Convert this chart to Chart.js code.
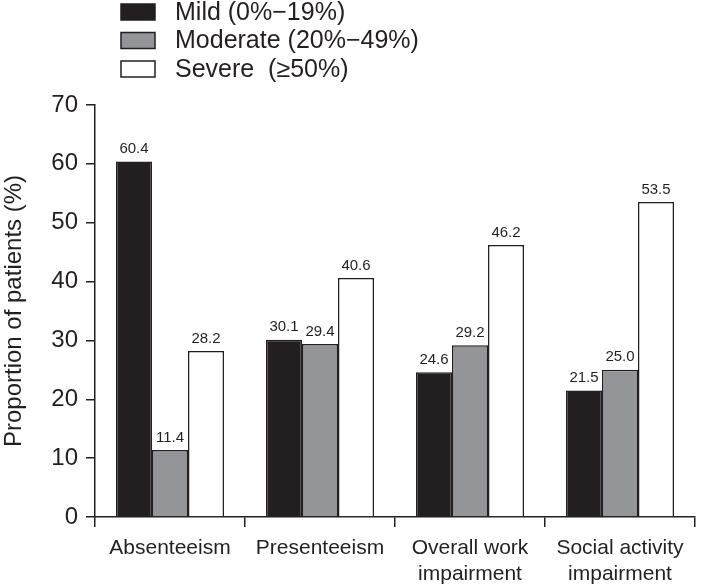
<!DOCTYPE html>
<html>
<head>
<meta charset="utf-8">
<script src="https://cdn.jsdelivr.net/npm/chart.js@4.4.0/dist/chart.umd.min.js"></script>
<style>
  html, body { margin: 0; padding: 0; background: #fff; }
  #wrap { width: 701px; height: 586px; }
</style>
</head>
<body>
<div id="wrap"><canvas id="chart"></canvas></div>
<script>
const categories = [['Absenteeism'], ['Presenteeism'], ['Overall work', 'impairment'], ['Social activity', 'impairment']];
const mild = [60.4, 30.1, 24.6, 21.5];
const moderate = [11.4, 29.4, 29.2, 25.0];
const severe = [28.2, 40.6, 46.2, 53.5];
const seriesNames = ['Mild (0%\u221219%)', 'Moderate (20%\u221249%)', 'Severe  (\u226550%)'];
const yTicks = [0, 10, 20, 30, 40, 50, 60, 70];

const ink = '#231f20';
const font = 'Arial, "Liberation Sans", sans-serif';

// value labels above each bar
const valueLabels = {
  id: 'valueLabels',
  afterDatasetsDraw(chart) {
    const ctx = chart.ctx;
    ctx.save();
    ctx.fillStyle = ink;
    ctx.font = '15px ' + font;
    ctx.textAlign = 'center';
    ctx.textBaseline = 'bottom';
    chart.data.datasets.forEach((ds, i) => {
      chart.getDatasetMeta(i).data.forEach((bar, j) => {
        ctx.fillText(ds.data[j].toFixed(1), bar.x, bar.y - 5);
      });
    });
    ctx.restore();
  }
};

// stacked legend at top left
const stackedLegend = {
  id: 'stackedLegend',
  afterDraw(chart) {
    const ctx = chart.ctx;
    ctx.save();
    ctx.font = '25px ' + font;
    ctx.textBaseline = 'middle';
    chart.data.datasets.forEach((ds, i) => {
      const cy = 12 + i * 28.5;
      ctx.fillStyle = ds.backgroundColor;
      ctx.fillRect(121, cy - 8, 34, 16);
      ctx.strokeStyle = ink;
      ctx.lineWidth = 1.5;
      ctx.strokeRect(121, cy - 8, 34, 16);
      ctx.fillStyle = ink;
      ctx.fillText(ds.label, 175, cy + 1);
    });
    ctx.restore();
  }
};

new Chart(document.getElementById('chart'), {
  type: 'bar',
  data: {
    labels: categories,
    datasets: [
      { label: seriesNames[0], data: mild, backgroundColor: ink },
      { label: seriesNames[1], data: moderate, backgroundColor: '#939598' },
      { label: seriesNames[2], data: severe, backgroundColor: '#ffffff' }
    ].map(d => Object.assign(d, { borderColor: ink, borderWidth: 1.5, borderSkipped: 'bottom', categoryPercentage: 0.72, barPercentage: 1 }))
  },
  options: {
    responsive: true,
    maintainAspectRatio: false,
    animation: false,
    layout: { padding: { top: 105, right: 6, left: 0, bottom: 0 } },
    plugins: { legend: { display: false }, tooltip: { enabled: false } },
    scales: {
      x: {
        afterFit(axis) { axis.height = 69; },
        grid: { display: true, drawOnChartArea: false, color: ink, lineWidth: 1.5, tickLength: 10, offset: true },
        border: { color: ink, width: 1.5 },
        ticks: { color: ink, font: { size: 21, family: font, lineHeight: 1.2 }, padding: 9, maxRotation: 0 }
      },
      y: {
        min: 0,
        max: 70,
        afterFit(axis) { axis.width = 95; },
        afterBuildTicks(axis) { axis.ticks = yTicks.map(v => ({ value: v })); },
        grid: { display: true, drawOnChartArea: false, color: ink, lineWidth: 1.5, tickLength: 9 },
        border: { color: ink, width: 1.5 },
        ticks: { color: ink, font: { size: 24, family: font }, padding: 8 },
        title: { display: true, text: 'Proportion of patients (%)', color: ink, font: { size: 24, family: font }, padding: { top: 0, bottom: 0 } }
      }
    }
  },
  plugins: [valueLabels, stackedLegend]
});
</script>
</body>
</html>
